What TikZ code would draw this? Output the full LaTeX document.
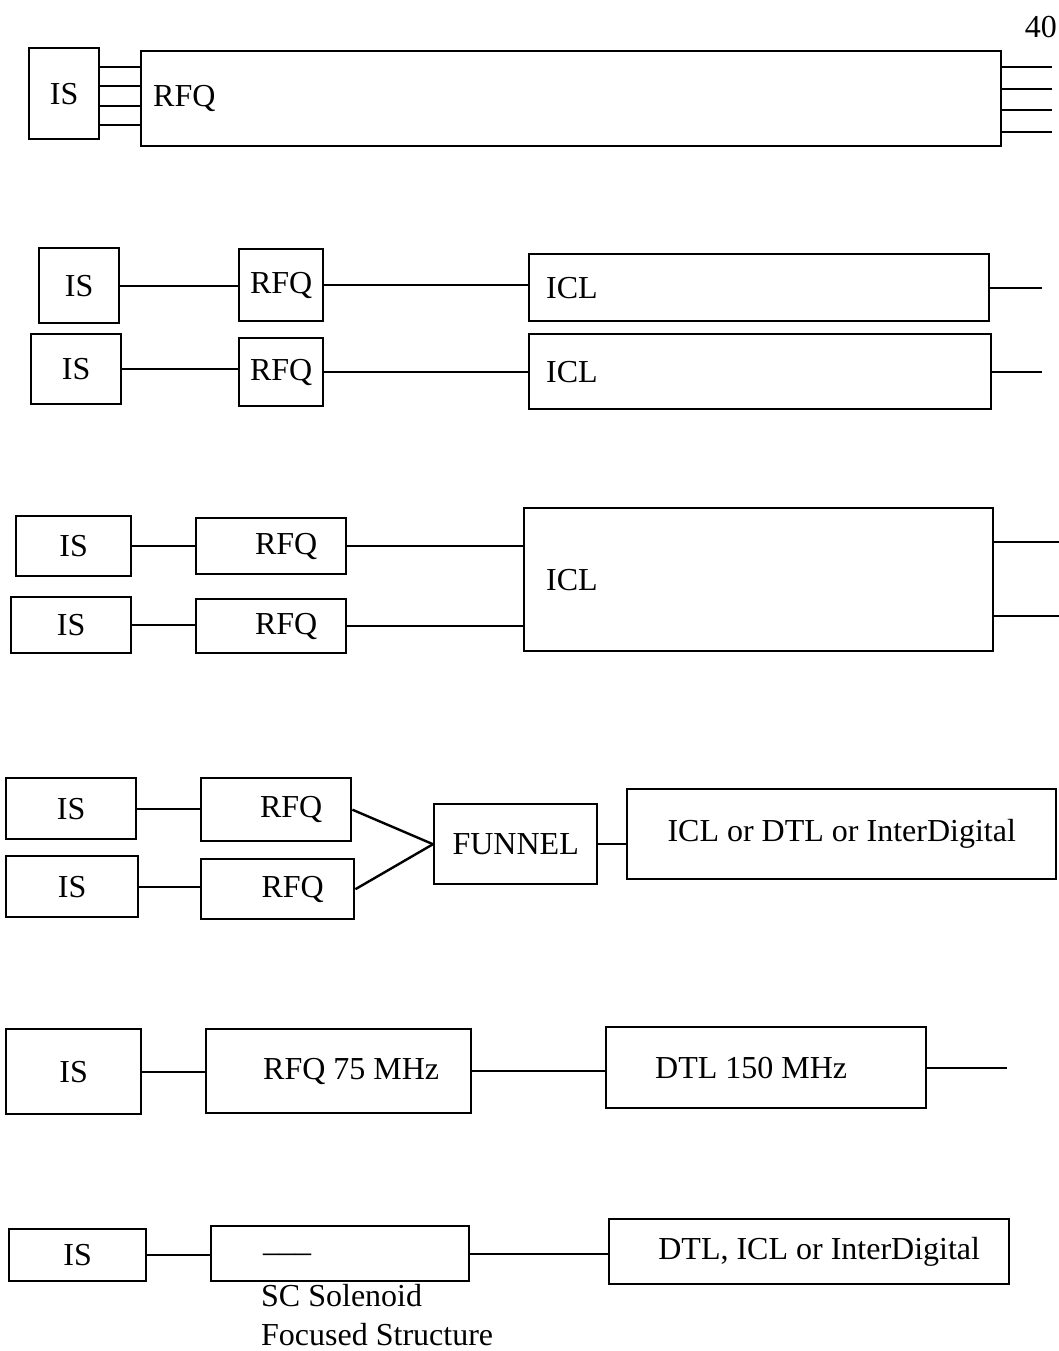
\documentclass[tikz,border=0pt]{standalone}
\usepackage{fontspec}
\setmainfont{Liberation Serif}
\newcommand{\bigtxt}{\fontsize{32}{39}\selectfont}

\begin{document}
\begin{tikzpicture}[x=1pt,y=-1pt,
    blk/.style={draw, line width=2.4pt, anchor=north west, inner sep=0pt, font=\bigtxt},
    lblk/.style={blk, align=left, inner xsep=#1},
    wire/.style={line width=2.4pt}]
    \useasboundingbox (0,0) rectangle (1058,1351);
    \node[font=\bigtxt, anchor=east, inner sep=1pt] (pageno) at (1058,27) {40};
    % one source, one long RFQ
    \node[blk, minimum width=70, minimum height=91] (is1) at (28,47) {IS};
    \node[lblk=12pt, text width=836pt, minimum height=95] (rfq1) at (140,50) {RFQ};
    \foreach \y in {67,86,106,125}
        \draw[wire] (is1.east |- 0,\y) -- (rfq1.west |- 0,\y);
    \foreach \y in {67,89,110,132}
        \draw[wire] (rfq1.east |- 0,\y) -- ++(50,0);
    %\\
    \node[blk, minimum width=80, minimum height=75] (is2a) at (38,247) {IS};
    \node[blk, minimum width=84, minimum height=72] (rfq2a) at (238,248) {RFQ};
    \node[lblk=17pt, text width=426pt, minimum height=67] (icl2a) at (528,253) {ICL};
    \draw[wire] (is2a.east) -- (is2a.east -| rfq2a.west);
    \draw[wire] (rfq2a.east) -- (rfq2a.east -| icl2a.west);
    \draw[wire] (icl2a.east) -- ++(52,0);
    \node[blk, minimum width=90, minimum height=70] (is2b) at (30,333) {IS};
    \node[blk, minimum width=84, minimum height=68] (rfq2b) at (238,337) {RFQ};
    \node[lblk=17pt, text width=428pt, minimum height=75] (icl2b) at (528,333) {ICL};
    \draw[wire] (is2b.east) -- (is2b.east -| rfq2b.west);
    \draw[wire] (rfq2b.east) -- (rfq2b.east -| icl2b.west);
    \draw[wire] (icl2b.east) -- ++(50,0);
    %\\
    \node[blk, minimum width=115, minimum height=60] (is3a) at (15,515) {IS};
    \node[blk, minimum width=150, minimum height=56] (rfq3a) at (195,517) {\hspace*{30pt}RFQ};
    \node[blk, minimum width=120, minimum height=56] (is3b) at (10,596) {IS};
    \node[blk, minimum width=150, minimum height=54] (rfq3b) at (195,598) {\hspace*{30pt}RFQ};
    \node[lblk=22pt, text width=425pt, minimum height=143] (icl3) at (523,507) {ICL};
    \draw[wire] (is3a.east) -- (is3a.east -| rfq3a.west);
    \draw[wire] (rfq3a.east) -- (rfq3a.east -| icl3.west);
    \draw[wire] (is3b.east) -- (is3b.east -| rfq3b.west);
    \draw[wire] (rfq3b.east) -- (rfq3b.east -| icl3.west);
    \foreach \y in {542,616}
        \draw[wire] (icl3.east |- 0,\y) -- ++(66,0);
    %\\
    \node[blk, minimum width=130, minimum height=61] (is4a) at (5,777) {IS};
    \node[blk, minimum width=150, minimum height=63] (rfq4a) at (200,777) {\hspace*{30pt}RFQ};
    \node[blk, minimum width=132, minimum height=61] (is4b) at (5,855) {IS};
    \node[blk, minimum width=153, minimum height=60] (rfq4b) at (200,858) {\hspace*{30pt}RFQ};
    \node[blk, minimum width=163, minimum height=80] (fun) at (433,803) {FUNNEL};
    \node[blk, minimum width=429, minimum height=90] (any4) at (626,788) {ICL or DTL or InterDigital};
    \draw[wire] (is4a.east) -- (is4a.east -| rfq4a.west);
    \draw[wire] (is4b.east) -- (is4b.east -| rfq4b.west);
    \draw[wire] (rfq4a.east) -- (fun.west);
    \draw[wire] (rfq4b.east) -- (fun.west);
    \draw[wire] (fun.east) -- (fun.east -| any4.west);
    %\\
    \node[blk, minimum width=135, minimum height=85] (is5) at (5,1028) {IS};
    \node[blk, minimum width=265, minimum height=84] (rfq5) at (205,1028) {\hspace*{25pt}RFQ 75 MHz};
    \node[blk, minimum width=320, minimum height=81] (dtl5) at (605,1026) {DTL 150 MHz\hspace*{30pt}};
    \draw[wire] (is5.east) -- (is5.east -| rfq5.west);
    \draw[wire] (rfq5.east) -- (rfq5.east -| dtl5.west);
    \draw[wire] (dtl5.east) -- ++(80,0);
    %\\
    \node[blk, minimum width=137, minimum height=52] (is6) at (8,1228) {IS};
    \node[lblk=52pt, text width=154pt, minimum height=55] (sc6) at (210,1225) {\_\_\_};
    \node[blk, minimum width=400, minimum height=65] (dtl6) at (608,1218) {\hspace*{20pt}DTL, ICL or InterDigital};
    \draw[wire] (is6.east) -- (is6.east -| sc6.west);
    \draw[wire] (sc6.east) -- (sc6.east -| dtl6.west);
    \node[font=\bigtxt, anchor=north west, align=left, inner sep=0pt] (sclbl) at (261,1284) {SC Solenoid\\Focused Structure};
\end{tikzpicture}
\end{document}
